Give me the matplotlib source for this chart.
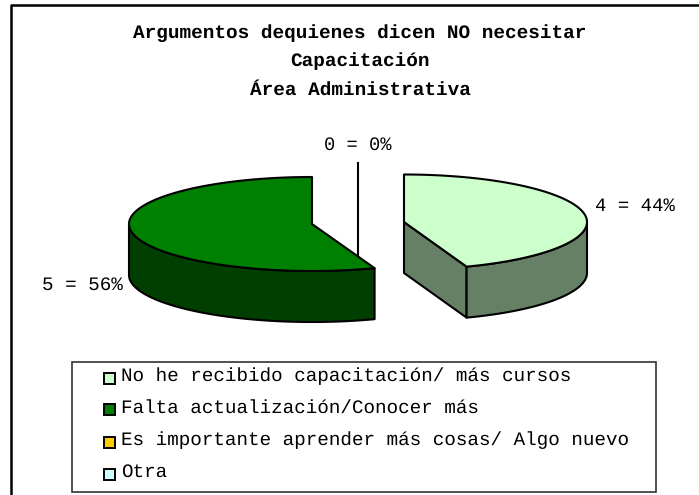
import numpy as np
import matplotlib
matplotlib.use('Agg')
import matplotlib.pyplot as plt
from matplotlib.patches import Polygon, Rectangle

plt.rcParams['font.family'] = ['Liberation Mono', 'DejaVu Sans']
plt.rcParams['text.hinting'] = 'no_hinting'

title_lines = ['Argumentos dequienes dicen NO necesitar', 'Capacitación', 'Área Administrativa']
categories = ['No he recibido capacitación/ más cursos', 'Falta actualización/Conocer más',
              'Es importante aprender más cosas/ Algo nuevo', 'Otra']
values = [4, 5, 0, 0]
percent_labels = ['4 = 44%', '5 = 56%', '0 = 0%']
colors = ['#CCFFCC', '#008000', '#FFCC00', '#CCFFFF']
side_colors = ['#668066', '#003F00']


def rim(cx, cy, a, b, start, end):
    # angles in degrees, clockwise from 12 o'clock
    t = np.radians(np.linspace(start, end, 200))
    return cx + a * np.sin(t), cy - b * np.cos(t)


def draw_poly(ax, x, y, color, z, lw=1.5):
    ax.add_patch(Polygon(np.column_stack([x, y]), closed=True, facecolor=color,
                         edgecolor='black', linewidth=lw, joinstyle='round', zorder=z))


fig = plt.figure(figsize=(6.99, 4.95), dpi=100)
ax = fig.add_axes([0, 0, 1, 1])
ax.set_xlim(0, 699)
ax.set_ylim(495, 0)
ax.axis('off')

# outer frame only has top and left side
ax.plot([10.5, 10.5, 699], [495, 4.5, 4.5], color='black', lw=1.8, zorder=1)

for line, y in zip(title_lines, [33, 61, 90]):
    ax.text(360, y, line, ha='center', va='center', fontsize=13.95, fontweight='bold', zorder=5)

angles = np.cumsum([0] + values) / sum(values) * 360
a, depth = 183, 51

# zero slices show up as a single line behind the green wedge
ax.plot([358, 358], [163, 262], color='black', lw=1.5, zorder=2)

# light wedge, pulled out to the right
cx, cy, b = 404, 222, 47.5
rx, ry = rim(cx, cy, a, b, angles[0], angles[1])
ex, ey = rx[-1], ry[-1]
draw_poly(ax, [cx, ex, ex, cx], [cy, ey, ey + depth, cy + depth], side_colors[0], 3)
sx, sy = rim(cx, cy, a, b, 90, angles[1])
draw_poly(ax, np.r_[sx, sx[::-1]], np.r_[sy, sy[::-1] + depth], side_colors[0], 3)
draw_poly(ax, np.r_[cx, rx], np.r_[cy, ry], colors[0], 4)

# green wedge
cx, cy, b = 312, 224, 47
rx, ry = rim(cx, cy, a, b, angles[1], angles[2])
sx, sy = rim(cx, cy, a, b, angles[1], 270)
draw_poly(ax, np.r_[sx, sx[::-1]], np.r_[sy, sy[::-1] + depth], side_colors[1], 3)
draw_poly(ax, np.r_[cx, rx], np.r_[cy, ry], colors[1], 4)

ax.text(595, 206, percent_labels[0], ha='left', va='center', fontsize=13.7, zorder=5)
ax.text(123, 285, percent_labels[1], ha='right', va='center', fontsize=13.9, zorder=5)
ax.text(358, 145, percent_labels[2], ha='center', va='center', fontsize=13.5, zorder=5)

# legend box
ax.add_patch(Rectangle((71.5, 362), 584, 130, facecolor='white', edgecolor='#333333', lw=1.2, zorder=2))
for name, color, y, ty in zip(categories, colors, [378, 409.5, 442.5, 474], [376.5, 407.5, 440, 471.5]):
    ax.add_patch(Rectangle((103.5, y - 5.5), 11, 11, facecolor=color, edgecolor='black', lw=1.4, zorder=3))
    ax.text(121, ty, name, ha='left', va='center', fontsize=13.88, zorder=5)

fig.savefig('out.png', dpi=100)
